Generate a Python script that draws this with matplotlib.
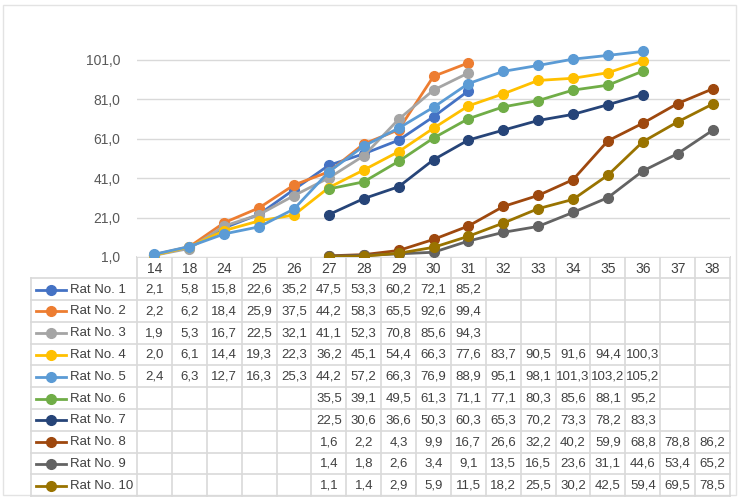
import numpy as np
import matplotlib
matplotlib.use("Agg")
import matplotlib.pyplot as plt
from matplotlib.lines import Line2D
from matplotlib.patches import Rectangle

# days of observation (category axis)
days = [14, 18, 24, 25, 26, 27, 28, 29, 30, 31, 32, 33, 34, 35, 36, 37, 38]

nan = np.nan
rat1 = [2.1, 5.8, 15.8, 22.6, 35.2, 47.5, 53.3, 60.2, 72.1, 85.2, nan, nan, nan, nan, nan, nan, nan]
rat2 = [2.2, 6.2, 18.4, 25.9, 37.5, 44.2, 58.3, 65.5, 92.6, 99.4, nan, nan, nan, nan, nan, nan, nan]
rat3 = [1.9, 5.3, 16.7, 22.5, 32.1, 41.1, 52.3, 70.8, 85.6, 94.3, nan, nan, nan, nan, nan, nan, nan]
rat4 = [2.0, 6.1, 14.4, 19.3, 22.3, 36.2, 45.1, 54.4, 66.3, 77.6, 83.7, 90.5, 91.6, 94.4, 100.3, nan, nan]
rat5 = [2.4, 6.3, 12.7, 16.3, 25.3, 44.2, 57.2, 66.3, 76.9, 88.9, 95.1, 98.1, 101.3, 103.2, 105.2, nan, nan]
rat6 = [nan, nan, nan, nan, nan, 35.5, 39.1, 49.5, 61.3, 71.1, 77.1, 80.3, 85.6, 88.1, 95.2, nan, nan]
rat7 = [nan, nan, nan, nan, nan, 22.5, 30.6, 36.6, 50.3, 60.3, 65.3, 70.2, 73.3, 78.2, 83.3, nan, nan]
rat8 = [nan, nan, nan, nan, nan, 1.6, 2.2, 4.3, 9.9, 16.7, 26.6, 32.2, 40.2, 59.9, 68.8, 78.8, 86.2]
rat9 = [nan, nan, nan, nan, nan, 1.4, 1.8, 2.6, 3.4, 9.1, 13.5, 16.5, 23.6, 31.1, 44.6, 53.4, 65.2]
rat10 = [nan, nan, nan, nan, nan, 1.1, 1.4, 2.9, 5.9, 11.5, 18.2, 25.5, 30.2, 42.5, 59.4, 69.5, 78.5]

series = [rat1, rat2, rat3, rat4, rat5, rat6, rat7, rat8, rat9, rat10]
names = [f"Rat No. {i}" for i in range(1, 11)]
colors = ["#4472C4", "#ED7D31", "#A5A5A5", "#FFC000", "#5B9BD5",
          "#70AD47", "#264478", "#9E480E", "#636363", "#997300"]
yticks = [1, 21, 41, 61, 81, 101]

W, H = 739, 498
plot_l, plot_r = 137, 730
plot_top, plot_bot = 40, 257
legend_l = 31
row_h = 21.8
grid_c = "#d9d9d9"
text_c = "#404040"

plt.rcParams["font.family"] = ["Liberation Sans", "DejaVu Sans"]

fig = plt.figure(figsize=(W / 100, H / 100), dpi=100)
fig.patch.set_facecolor("white")

# line chart
ax = fig.add_axes([plot_l / W, 1 - plot_bot / H, (plot_r - plot_l) / W, (plot_bot - plot_top) / H])
x = np.arange(len(days))
for vals, c in zip(series, colors):
    ax.plot(x, vals, color=c, lw=2, marker="o", ms=7, zorder=3)
ax.set_xlim(-0.5, len(days) - 0.5)
ax.set_ylim(1, 111)
ax.set_yticks(yticks)
ax.set_yticklabels([f"{v:.1f}".replace(".", ",") for v in yticks], color="#595959", fontsize=10)
ax.tick_params(axis="y", length=0, pad=12)
ax.set_xticks([])
for v in yticks:
    ax.axhline(v, color=grid_c, lw=1, zorder=1)
for s in ax.spines.values():
    s.set_visible(False)

# data table below the chart, drawn in pixel coordinates
tb = fig.add_axes([0, 0, 1, 1], zorder=-1)
tb.set_xlim(0, W)
tb.set_ylim(H, 0)
tb.axis("off")
tb.add_patch(Rectangle((3, 5), W - 6, H - 8, fill=False, ec="#e3e3e3", lw=1))

col_w = (plot_r - plot_l) / len(days)
head_top = plot_bot
body_top = head_top + row_h * 0.97
body_bot = body_top + row_h * len(series)

# horizontal rules
tb.plot([plot_l, plot_r], [head_top, head_top], color=grid_c, lw=1.2)
for r in range(len(series) + 1):
    y = body_top + r * row_h
    tb.plot([legend_l, plot_r], [y, y], color=grid_c, lw=1.2)
# vertical rules
tb.plot([legend_l, legend_l], [body_top, body_bot], color=grid_c, lw=1.2)
for i in range(len(days) + 1):
    xv = plot_l + i * col_w
    tb.plot([xv, xv], [head_top, body_bot], color=grid_c, lw=1.2)

for i, d in enumerate(days):
    tb.text(plot_l + (i + 0.5) * col_w, (head_top + body_top) / 2 + 1, str(d),
            ha="center", va="center", fontsize=10, color=text_c)

for r, (vals, name, c) in enumerate(zip(series, names, colors)):
    yc = body_top + (r + 0.5) * row_h + 0.5
    tb.add_line(Line2D([36, 66], [yc, yc], color=c, lw=2))
    tb.add_line(Line2D([51], [yc], color=c, marker="o", ms=7))
    tb.text(70, yc, name, ha="left", va="center", fontsize=9.5, color=text_c)
    for i, v in enumerate(vals):
        if np.isnan(v):
            continue
        tb.text(plot_l + (i + 0.5) * col_w, yc, f"{v:.1f}".replace(".", ","),
                ha="center", va="center", fontsize=9.5, color=text_c)

fig.savefig("out.png", dpi=100)
